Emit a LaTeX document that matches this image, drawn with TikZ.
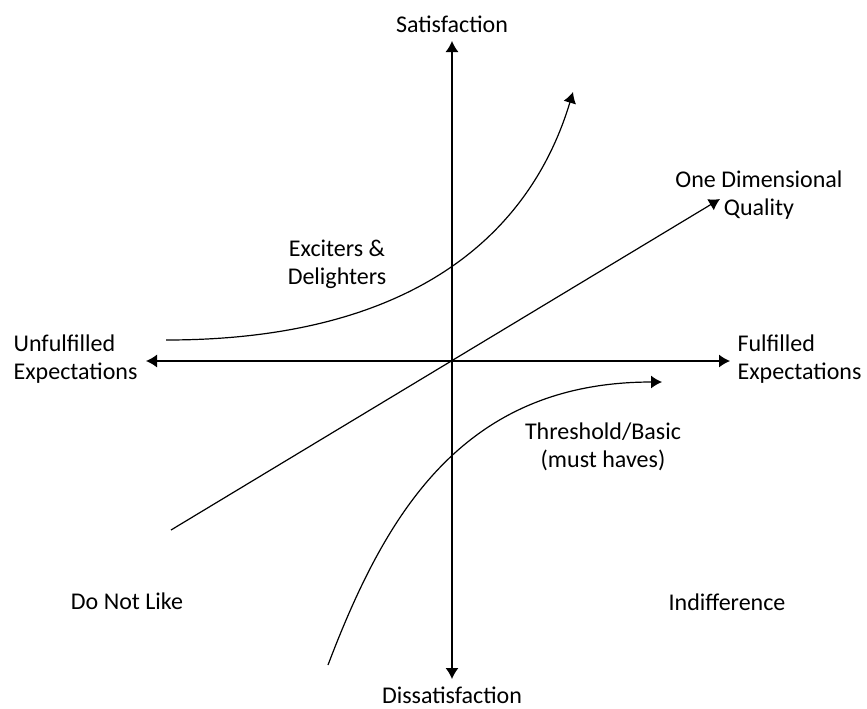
\documentclass[tikz,border=0pt]{standalone}
\usepackage{fontspec}
\setmainfont{Carlito}
\usetikzlibrary{arrows.meta,positioning}

\begin{document}
\begin{tikzpicture}[x=0.5pt,y=-0.5pt,line width=0.6pt,
	every node/.style={font=\fontsize{12}{14}\selectfont, align=center, inner sep=0pt},
	tip/.style={-{Latex[length=5.5pt,width=6.5pt]}},
	tips/.style={{Latex[length=5.5pt,width=6.5pt]}-{Latex[length=5.5pt,width=6.5pt]}}]
	\useasboundingbox (0,0) rectangle (867,708);
	% axes
	\coordinate (o) at (452,361);
	\coordinate (n) at (452,41);
	\coordinate (s) at (452,679);
	\coordinate (w) at (146,361);
	\coordinate (e) at (730,361);
	%
	\node (sat) at (452,24) {Satisfaction};
	\node (dis) at (452,695) {Dissatisfaction};
	\node [anchor=west, align=left] (unf) at (13,359) {Unfulfilled\\Expectations};
	\node [anchor=west, align=left] (ful) at (737,359) {Fulfilled\\Expectations};
	%
	\draw [tips] (s) -- (n);
	\draw [tips] (w) -- (e);
	% one dimensional
	\coordinate (d0) at (171,530);
	\coordinate (d1) at (720,199);
	\node (odq) at (759,195) {One Dimensional\\Quality};
	\draw [tip] (d0) -- (d1);
	% exciters
	\coordinate (x0) at (166,340);
	\coordinate (x1) at (573,92);
	\node (exc) at (337,264) {Exciters \&\\Delighters};
	\draw [tip] (x0) .. controls (416,340) and (531,232) .. (x1);
	% threshold
	\coordinate (t0) at (328,665);
	\coordinate (t1) at (662,382);
	\node (thr) at (603,447) {Threshold/Basic\\(must haves)};
	\draw [tip] (t0) .. controls (385,515) and (462,382) .. (t1);
	%
	\node [anchor=base] (dnl) at (127,609) {Do Not Like};
	\node [anchor=base] (ind) at (727,610) {Indifference};
\end{tikzpicture}
\end{document}
